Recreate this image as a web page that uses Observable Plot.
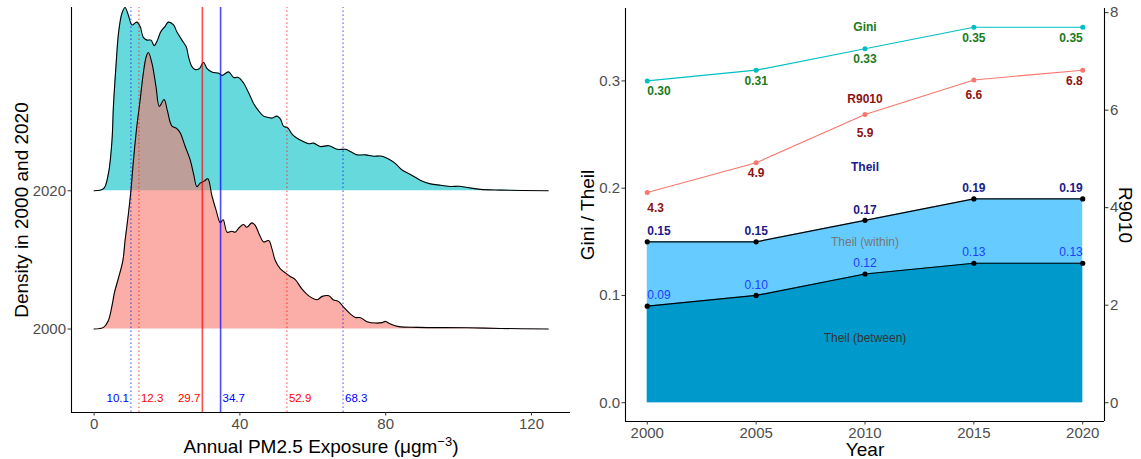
<!DOCTYPE html>
<html><head><meta charset="utf-8">
<script src="https://cdn.jsdelivr.net/npm/d3@7"></script>
<script src="https://cdn.jsdelivr.net/npm/@observablehq/plot@0.6"></script>
<style>
body{margin:0;background:#fff;}
#wrap{position:relative;width:1141px;height:459px;overflow:hidden;background:#fff;}
#left{position:absolute;left:0;top:0;}
#right{position:absolute;left:570px;top:0;}
</style></head><body><div id="wrap"><div id="left"></div><div id="right"></div></div>
<script>
// ---------------- data: left panel (ridge heights) ----------------
const exposure2020 = [0,2.6,3.9,4.9,5.3,6.0,6.7,7.6,8.5,9.4,10.4,11.7,12.6,13.5,14.5,15.6,16.5,17.4,18.3,19.5,20.4,21.8,22.7,24.1,25.3,25.9,26.8,27.7,28.9,30.0,31.0,32.3,34.2,35.1,36.9,38.3,39.6,41.0,42.9,43.8,45.1,46.5,47.9,48.8,50.2,51.1,52.0,53.1,54.3,55.7,57.1,58.9,60.2,62.1,64.4,66.7,69.0,70.3,72.2,74.4,76.7,79.0,80.8,82.7,84.5,86.8,89.6,92.3,95.1,97.8,100.1,102.4,106.0,111.5,124.6];
const height2020 = [0,0.015,0.12,0.36,0.61,0.90,1.14,1.28,1.326,1.27,1.20,1.22,1.19,1.11,1.09,1.09,1.05,1.09,1.15,1.19,1.22,1.20,1.15,1.09,1.04,0.97,0.90,0.877,0.884,0.93,0.884,0.86,0.85,0.835,0.86,0.82,0.82,0.78,0.68,0.63,0.58,0.54,0.53,0.526,0.54,0.52,0.466,0.456,0.41,0.38,0.36,0.34,0.345,0.32,0.326,0.30,0.30,0.285,0.26,0.26,0.25,0.25,0.23,0.196,0.15,0.118,0.075,0.05,0.04,0.031,0.033,0.024,0.01,0.005,0];
const exposure2000 = [0,2.6,3.9,5.0,5.6,6.7,7.9,8.5,9.4,10.1,10.8,11.7,12.6,13.5,14.3,14.9,15.9,17.0,17.9,19.2,20.1,21.3,22.7,23.6,25.0,26.4,27.3,28.2,29.1,30.2,31.2,32.3,33.5,34.6,35.4,36.5,37.8,38.7,39.9,41.0,41.9,43.3,44.2,45.4,46.5,47.9,48.8,49.7,51.1,52.5,53.8,55.2,57.0,58.9,61.2,62.6,64.4,65.6,67.1,68.5,70.3,71.7,73.1,74.9,77.2,79.0,79.9,81.3,83.6,88.6,102.4,111.5,124.6];
const height2000 = [0,0.012,0.06,0.18,0.265,0.37,0.495,0.64,0.83,1.0,1.22,1.46,1.65,1.85,1.97,2.0,1.92,1.75,1.61,1.66,1.58,1.47,1.45,1.42,1.32,1.22,1.12,1.03,1.055,1.07,1.087,0.966,0.857,0.77,0.79,0.70,0.707,0.70,0.736,0.756,0.736,0.768,0.75,0.68,0.63,0.64,0.58,0.495,0.435,0.406,0.38,0.357,0.29,0.24,0.212,0.236,0.24,0.212,0.198,0.157,0.109,0.084,0.082,0.053,0.043,0.046,0.055,0.036,0.017,0.012,0.009,0.004,0];
const statValues = [10.1, 12.3, 29.7, 34.7, 52.9, 68.3];
const statYears  = ["2020", "2000", "2000", "2020", "2000", "2020"];
const statTypes  = ["p10", "p10", "mean", "mean", "p90", "p90"];
const ridgeYears = ["2000", "2020"];
const exposureTicks = [0, 40, 80, 120];

// ---------------- data: right panel ----------------
const years = [2000, 2005, 2010, 2015, 2020];
const gini = [0.30, 0.31, 0.33, 0.35, 0.35];
const r9010 = [4.31, 4.92, 5.91, 6.62, 6.82];
const theilTotal = [0.15, 0.15, 0.17, 0.19, 0.19];
const theilBetween = [0.09, 0.10, 0.12, 0.13, 0.13];
const leftTicks = [0, 0.1, 0.2, 0.3];
const r9010Ticks = [0, 2, 4, 6, 8];
const R_SCALE = 22; // secondary axis: R9010 = left value * 22

// ---------------- drawing ----------------
const FONT = "'Liberation Sans', Arial, Helvetica, sans-serif";
const TICK_FILL = "#4D4D4D", TICK_STROKE = "#333333";

// Left panel
const X0 = -6.2, X1 = 130.7, Y0 = -0.604, Y1 = 2.326;
const ridge2020 = exposure2020.map((x, i) => ({x, base: 1, top: 1 + height2020[i]}));
const ridge2000 = exposure2000.map((x, i) => ({x, base: 0, top: height2000[i]}));
const stats = statValues.map((v, i) => ({v, year: statYears[i], type: statTypes[i], label: v.toFixed(1)}));
const statColor = d => d.year === "2000" ? "red" : "blue";
const statAnchorEnd = [true, false, true, false, false, false];

const left = Plot.plot({
  width: 580, height: 459,
  marginLeft: 71, marginRight: 10, marginTop: 7, marginBottom: 47,
  style: {fontFamily: FONT, background: "white", overflow: "visible"},
  x: {domain: [X0, X1]},
  y: {domain: [Y0, Y1]},
  marks: [
    Plot.areaY(ridge2020, {x: "x", y1: "base", y2: "top", fill: "#00BFC4", fillOpacity: 0.6, curve: "catmull-rom"}),
    Plot.line(ridge2020, {x: "x", y: "top", stroke: "black", strokeWidth: 1.1, curve: "catmull-rom"}),
    Plot.areaY(ridge2000, {x: "x", y1: "base", y2: "top", fill: "#F8766D", fillOpacity: 0.6, curve: "catmull-rom"}),
    Plot.line(ridge2000, {x: "x", y: "top", stroke: "black", strokeWidth: 1.1, curve: "catmull-rom"}),
    Plot.ruleX(stats.filter(d => d.type === "mean"), {x: "v", y1: Y0, y2: Y1, stroke: statColor, strokeWidth: 1.6, strokeOpacity: 0.7}),
    Plot.ruleX(stats.filter(d => d.type !== "mean"), {x: "v", y1: Y0, y2: Y1, stroke: statColor, strokeWidth: 1.2, strokeOpacity: 0.6, strokeDasharray: "1.5,2.5"}),
    Plot.text(stats.filter((d, i) => statAnchorEnd[i]), {x: "v", y: -0.503, text: "label", fill: statColor, textAnchor: "end", dx: -2, fontSize: 11.5}),
    Plot.text(stats.filter((d, i) => !statAnchorEnd[i]), {x: "v", y: -0.503, text: "label", fill: statColor, textAnchor: "start", dx: 2, fontSize: 11.5}),
    Plot.ruleX([X0], {stroke: "black", strokeWidth: 1.1}),
    Plot.ruleY([Y0], {stroke: "black", strokeWidth: 1.1}),
    Plot.axisX({ticks: exposureTicks, tickSize: 3.5, tickPadding: 2, fontSize: 15, fill: TICK_FILL, stroke: TICK_STROKE, label: null}),
    Plot.axisY({ticks: [0, 1], tickFormat: d => ridgeYears[d], tickSize: 3.5, tickPadding: 2, fontSize: 15, fill: TICK_FILL, stroke: TICK_STROKE, label: null}),
    Plot.text(["Annual PM2.5 Exposure (μgm"], {frameAnchor: "bottom", textAnchor: "middle", lineAnchor: "middle", dy: 34, fontSize: 19, fill: "black", text: d => d}),
    Plot.text(["Density in 2000 and 2020"], {frameAnchor: "left", textAnchor: "middle", lineAnchor: "middle", dx: -50, rotate: -90, fontSize: 19, fill: "black", text: d => d})
  ]
});
document.getElementById("left").appendChild(left);
// superscript for the unit
left.querySelectorAll("text").forEach(t => {
  if (t.textContent === "Annual PM2.5 Exposure (μgm") {
    const ns = "http://www.w3.org/2000/svg";
    const sup = document.createElementNS(ns, "tspan");
    sup.setAttribute("dy", "-7"); sup.setAttribute("font-size", "13"); sup.textContent = "−3";
    const close = document.createElementNS(ns, "tspan");
    close.setAttribute("dy", "7"); close.textContent = ")";
    t.appendChild(sup); t.appendChild(close);
  }
});

// Right panel
const RX0 = 1999, RX1 = 2021, RY0 = -0.0175, RY1 = 0.3675;
const rows = years.map((year, i) => ({year, gini: gini[i], r: r9010[i] / R_SCALE, rLabel: r9010[i].toFixed(1), theil: theilTotal[i], between: theilBetween[i]}));
const anchors = ["start", "middle", "middle", "middle", "end"];
const rDy = [16, 10.3, 19, 15, 10.7];

function labels(field, fmt, fill, weight, dyFn) {
  return rows.map((d, i) => Plot.text([d], {x: "year", y: field, text: fmt, textAnchor: anchors[i], dy: dyFn(i), fill, fontWeight: weight, fontSize: 12}));
}

const right = Plot.plot({
  width: 571, height: 459,
  marginLeft: 55, marginRight: 37, marginTop: 8, marginBottom: 38,
  style: {fontFamily: FONT, background: "white", overflow: "visible"},
  x: {domain: [RX0, RX1]},
  y: {domain: [RY0, RY1]},
  marks: [
    Plot.areaY(rows, {x: "year", y1: 0, y2: "theil", fill: "#66CCFF"}),
    Plot.areaY(rows, {x: "year", y1: 0, y2: "between", fill: "#0099CC"}),
    Plot.line(rows, {x: "year", y: "theil", stroke: "black", strokeWidth: 1.2}),
    Plot.dot(rows, {x: "year", y: "theil", fill: "black", r: 2.6}),
    Plot.line(rows, {x: "year", y: "between", stroke: "black", strokeWidth: 1.2}),
    Plot.dot(rows, {x: "year", y: "between", fill: "black", r: 2.6}),
    Plot.line(rows, {x: "year", y: "gini", stroke: "#00BFC4", strokeWidth: 1.2}),
    Plot.dot(rows, {x: "year", y: "gini", fill: "#00BFC4", r: 2.5}),
    Plot.line(rows, {x: "year", y: "r", stroke: "#F8766D", strokeWidth: 1.1}),
    Plot.dot(rows, {x: "year", y: "r", fill: "#F8766D", r: 2.5}),
    ...labels("gini", d => d.gini.toFixed(2), "#1B7A1B", "bold", () => 10.7),
    ...labels("r", d => d.rLabel, "#8E1212", "bold", i => rDy[i]),
    ...labels("theil", d => d.theil.toFixed(2), "#1A1A8C", "bold", () => -10.7),
    ...labels("between", d => d.between.toFixed(2), "#1F3DFF", "normal", () => -10.7),
    Plot.text([{year: 2010, y: 0.35, t: "Gini"}], {x: "year", y: "y", text: "t", fill: "#1B7A1B", fontWeight: "bold", fontSize: 12}),
    Plot.text([{year: 2010, y: 0.2826, t: "R9010"}], {x: "year", y: "y", text: "t", fill: "#8E1212", fontWeight: "bold", fontSize: 12}),
    Plot.text([{year: 2010, y: 0.22, t: "Theil"}], {x: "year", y: "y", text: "t", fill: "#1A1A8C", fontWeight: "bold", fontSize: 12}),
    Plot.text([{year: 2010, y: 0.1497, t: "Theil (within)"}], {x: "year", y: "y", text: "t", fill: "#777777", fontSize: 12}),
    Plot.text([{year: 2010, y: 0.06, t: "Theil (between)"}], {x: "year", y: "y", text: "t", fill: "#333333", fontSize: 12}),
    Plot.ruleX([RX0, RX1], {stroke: "black", strokeWidth: 1.1}),
    Plot.ruleY([RY0], {stroke: "black", strokeWidth: 1.1}),
    Plot.axisX({ticks: years, tickFormat: d => String(d), tickSize: 3.5, tickPadding: 2, fontSize: 15, fill: TICK_FILL, stroke: TICK_STROKE, label: null}),
    Plot.axisY({ticks: leftTicks, tickFormat: d => d.toFixed(1), tickSize: 3.5, tickPadding: 2, fontSize: 15, fill: TICK_FILL, stroke: TICK_STROKE, label: null}),
    Plot.axisY({anchor: "right", ticks: r9010Ticks.map(v => v / R_SCALE), tickFormat: d => String(Math.round(d * R_SCALE)), tickSize: 3.5, tickPadding: 2, fontSize: 15, fill: TICK_FILL, stroke: TICK_STROKE, label: null}),
    Plot.text(["Year"], {frameAnchor: "bottom", textAnchor: "middle", lineAnchor: "middle", dy: 28, fontSize: 19, fill: "black", text: d => d}),
    Plot.text(["Gini / Theil"], {frameAnchor: "left", textAnchor: "middle", lineAnchor: "middle", dx: -38, rotate: -90, fontSize: 19, fill: "black", text: d => d}),
    Plot.text(["R9010"], {frameAnchor: "right", textAnchor: "middle", lineAnchor: "middle", dx: 21, rotate: 90, fontSize: 19, fill: "black", text: d => d})
  ]
});
document.getElementById("right").appendChild(right);
</script></body></html>
